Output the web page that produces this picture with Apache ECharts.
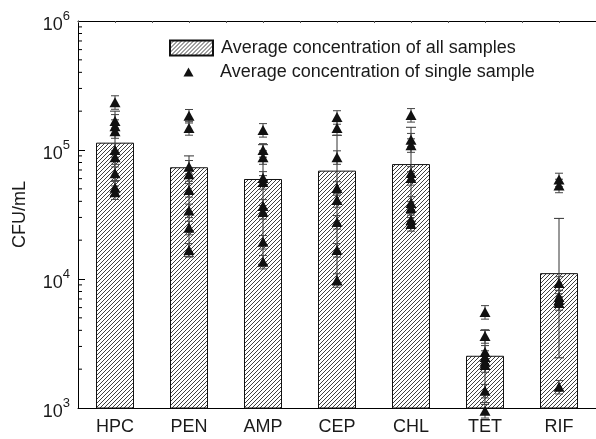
<!DOCTYPE html>
<html><head><meta charset="utf-8">
<script src="https://cdn.jsdelivr.net/npm/echarts@6/dist/echarts.min.js"></script>
<style>html,body{margin:0;padding:0;background:#fff}#c{width:596px;height:439px}</style>
</head><body><div id="c"></div>
<script>
// ---- data ----
const categories = ['HPC', 'PEN', 'AMP', 'CEP', 'CHL', 'TET', 'RIF'];
const barValues = [1.14e5, 7.35e4, 5.96e4, 6.92e4, 7.78e4, 2.54e3, 1.11e4];
const barErrLow = [4.4e4, 1.5e4, 1.3e4, 9.0e3, 2.8e4, 1.1e3, 2.45e3];
const barErrHigh = [2.0e5, 9.0e4, 1.1e5, 1.3e5, 1.5e5, 4.0e3, 2.95e4];
const samplesHPC = [2.35e5, 1.68e5, 1.53e5, 1.40e5, 1.0e5, 8.8e4, 6.6e4, 5.1e4, 4.7e4];
const samplesPEN = [1.84e5, 1.48e5, 7.4e4, 6.5e4, 4.9e4, 3.4e4, 2.5e4, 1.68e4];
const samplesAMP = [1.43e5, 1.0e5, 8.8e4, 6.07e4, 5.65e4, 3.68e4, 3.31e4, 1.94e4, 1.36e4];
const samplesCEP = [1.80e5, 1.48e5, 8.8e4, 5.07e4, 4.09e4, 2.77e4, 1.68e4, 9.8e3];
const samplesCHL = [1.87e5, 1.20e5, 1.09e5, 6.63e4, 6.07e4, 3.88e4, 3.55e4, 2.87e4, 2.67e4];
const samplesTET = [5.55e3, 3.61e3, 2.72e3, 2.48e3, 2.28e3, 2.15e3, 1.36e3, 9.5e2];
const samplesRIF = [5.9e4, 5.3e4, 9.3e3, 7.25e3, 6.87e3, 6.51e3, 1.46e3];
const sampleRelErr = 0.12;
const yMin = 1e3, yMax = 1e6;
const minorTickValues = [2e3,3e3,4e3,5e3,6e3,7e3,8e3,9e3, 2e4,3e4,4e4,5e4,6e4,7e4,8e4,9e4, 2e5,3e5,4e5,5e5,6e5,7e5,8e5,9e5];
const legendNames = ['Average concentration of all samples', 'Average concentration of single sample'];

// ---- build ----
const allSamples = [samplesHPC, samplesPEN, samplesAMP, samplesCEP, samplesCHL, samplesTET, samplesRIF];
const scatterData = [], sampleErrData = [];
allSamples.forEach((arr, i) => arr.forEach(v => {
  scatterData.push([i, v]);
  sampleErrData.push([i, v * (1 - sampleRelErr), v * (1 + sampleRelErr)]);
}));
const barErrData = categories.map((c, i) => [i, barErrLow[i], barErrHigh[i]]);
const minorData = minorTickValues.map(v => [0, v]);

const FONT = 'Liberation Sans, Arial, sans-serif';
const TXT = '#1a1a1a';
const FS = 18;

// hatch pattern
const pc = document.createElement('canvas');
const P = 4;
pc.width = P; pc.height = P;
const g = pc.getContext('2d');
g.fillStyle = '#fff'; g.fillRect(0, 0, P, P);
g.strokeStyle = '#2a2a2a'; g.lineWidth = 0.9;
g.beginPath();
g.moveTo(-1, P + 1); g.lineTo(P + 1, -1);
g.moveTo(-1, 1); g.lineTo(1, -1);
g.moveTo(P - 1, P + 1); g.lineTo(P + 1, P - 1);
g.stroke();
const hatch = { image: pc, repeat: 'repeat' };

function errRender(capHalf, color) {
  return function (params, api) {
    const x = api.value(0);
    const lo = api.coord([x, api.value(1)]);
    const hi = api.coord([x, api.value(2)]);
    const st = { stroke: color, lineWidth: 1 };
    return {
      type: 'group',
      children: [
        { type: 'line', shape: { x1: lo[0], y1: lo[1], x2: hi[0], y2: hi[1] }, style: st },
        { type: 'line', shape: { x1: lo[0] - capHalf, y1: lo[1], x2: lo[0] + capHalf, y2: lo[1] }, style: st },
        { type: 'line', shape: { x1: hi[0] - capHalf, y1: hi[1], x2: hi[0] + capHalf, y2: hi[1] }, style: st }
      ]
    };
  };
}

const chart = echarts.init(document.getElementById('c'), null, { renderer: 'canvas' });
chart.setOption({
  animation: false,
  backgroundColor: '#fff',
  grid: { left: 78, right: 0, top: 21, bottom: 31, containLabel: false },
  legend: [
    {
      data: [{ name: legendNames[0], icon: 'rect' }],
      left: 169, top: 39, orient: 'vertical', padding: 0,
      itemWidth: 43, itemHeight: 15,
      textStyle: { fontSize: FS, color: TXT, fontFamily: FONT, padding: [0, 0, 0, 3] },
      selectedMode: false
    },
    {
      data: [{ name: legendNames[1], icon: 'path://M0,0 M43,10 M14.5,9.5 L19.5,0.5 L24.5,9.5 Z' }],
      left: 169, top: 63, orient: 'vertical', padding: 0,
      itemWidth: 43, itemHeight: 10,
      textStyle: { fontSize: FS, color: TXT, fontFamily: FONT, padding: [0, 0, 0, 3] },
      selectedMode: false
    }
  ],
  xAxis: [
    {
      type: 'category', data: categories, position: 'bottom',
      axisLine: { lineStyle: { color: '#000', width: 1 } },
      axisTick: { inside: true, length: 4, lineStyle: { color: '#000' } },
      axisLabel: { fontSize: FS, color: TXT, fontFamily: FONT, margin: 10 },
      splitLine: { show: false }
    },
    {
      type: 'value', position: 'top', min: 0, max: 7, interval: 0.5,
      axisLine: { show: true, onZero: false, lineStyle: { color: '#000', width: 1 } },
      axisTick: { show: true, inside: true, length: 2, lineStyle: { color: '#555' } },
      axisLabel: { show: false }, splitLine: { show: false }
    }
  ],
  yAxis: {
    type: 'log', logBase: 10, min: yMin, max: yMax,
    name: 'CFU/mL', nameLocation: 'middle', nameGap: 49, nameRotate: 90,
    nameTextStyle: { fontSize: FS, color: TXT, fontFamily: FONT },
    axisLine: { show: true, lineStyle: { color: '#000', width: 1 } },
    axisTick: { show: true, inside: true, length: 7, lineStyle: { color: '#000' } },
    splitLine: { show: false },
    axisLabel: {
      margin: 8, color: TXT, fontFamily: FONT,
      formatter: v => '{b|10}{s|' + Math.round(Math.log10(v)) + '}',
      rich: {
        b: { fontSize: FS, color: TXT, fontFamily: FONT, padding: [8, 0, 0, 0] },
        s: { fontSize: 13, color: TXT, fontFamily: FONT, padding: [0, 0, 9, 0] }
      }
    }
  },
  series: [
    {
      name: legendNames[0], type: 'bar', data: barValues, barWidth: 38,
      itemStyle: { color: hatch, borderColor: '#111', borderWidth: 1 },
      z: 1
    },
    {
      type: 'custom', data: barErrData, renderItem: errRender(5, '#333'),
      encode: { x: 0, y: [1, 2] }, z: 3, silent: true
    },
    {
      type: 'custom', data: sampleErrData, renderItem: errRender(4, '#444'),
      encode: { x: 0, y: [1, 2] }, z: 4, silent: true
    },
    {
      name: legendNames[1], type: 'scatter', data: scatterData,
      symbol: 'triangle', symbolSize: [11, 10],
      itemStyle: { color: '#111', opacity: 1 }, clip: false, z: 5
    },
    {
      type: 'custom', data: minorData, silent: true, clip: false,
      renderItem: function (params, api) {
        const p = api.coord([0, api.value(1)]);
        const x0 = params.coordSys.x;
        return { type: 'line', shape: { x1: x0, y1: p[1], x2: x0 + 4, y2: p[1] }, style: { stroke: '#000', lineWidth: 1 } };
      },
      encode: { x: 0, y: 1 }, z: 6
    }
  ]
});
</script></body></html>
